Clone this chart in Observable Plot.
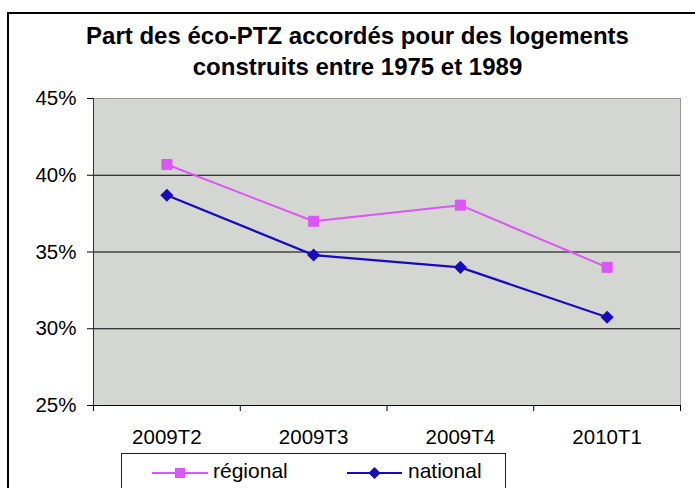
<!DOCTYPE html>
<html>
<head>
<meta charset="utf-8">
<script src="https://cdn.jsdelivr.net/npm/d3@7"></script>
<script src="https://cdn.jsdelivr.net/npm/@observablehq/plot@0.6"></script>
<style>
  html, body { margin: 0; padding: 0; background: #fff; overflow: hidden; }
  #wrap { position: relative; width: 695px; height: 488px; overflow: hidden; font-family: "Liberation Sans", Arial, sans-serif; }
  #border { position: absolute; left: 7px; top: 12px; width: 720px; height: 520px; border: 2px solid #000; box-sizing: border-box; }
  #title { position: absolute; left: 10px; top: 20px; width: 695px; text-align: center; font-weight: bold; font-size: 24px; line-height: 31px; color: #000; }
  #chart { position: absolute; left: 0; top: 0; }
  #legend { position: absolute; left: 121px; top: 453px; width: 385px; height: 60px; border: 1px solid #222; box-sizing: border-box; }
  #legend svg { position: absolute; left: -1px; top: -1px; }
</style>
</head>
<body>
<div id="wrap">
  <div id="border"></div>
  <div id="title">Part des éco-PTZ accordés pour des logements<br>construits entre 1975 et 1989</div>
  <div id="chart"></div>
  <div id="legend"></div>
</div>
<script>
const categories = ["2009T2", "2009T3", "2009T4", "2010T1"];
const regional = [40.7, 37.0, 38.05, 34.0];
const national = [38.7, 34.8, 34.0, 30.75];
const yTicks = [25, 30, 35, 40, 45];
const gridValues = [30, 35, 40];
const seriesNames = ["régional", "national"];
const colors = ["#dc55f6", "#170abf"];

const data = categories.map((c, i) => ({i, c, regional: regional[i], national: national[i]}));

const chart = Plot.plot({
  width: 695,
  height: 488,
  marginLeft: 93,
  marginRight: 15,
  marginTop: 98,
  marginBottom: 83,
  x: {type: "linear", domain: [0, categories.length]},
  y: {domain: [25, 45]},
  style: {fontFamily: "'Liberation Sans', Arial, sans-serif", fontSize: "20.5px", color: "#000", background: "transparent"},
  marks: [
    Plot.frame({fill: "#d4d6d1", stroke: "#9a9a9a"}),
    Plot.ruleY(gridValues, {stroke: "#000", strokeWidth: 1}),
    Plot.ruleY([25], {stroke: "#000", strokeWidth: 1}),
    Plot.ruleX([0], {stroke: "#333", strokeWidth: 1}),
    Plot.axisY({ticks: yTicks, tickSize: 6, tickPadding: 11, tickFormat: d => d + "%", label: null, stroke: "#000"}),
    Plot.axisX({ticks: d3.range(categories.length + 1), tickSize: 6, tickFormat: () => "", label: null, stroke: "#000"}),
    Plot.axisX({ticks: categories.map((c, i) => i + 0.5), tickSize: 0, tickPadding: 24, tickFormat: d => categories[Math.floor(d)], label: null}),
    Plot.line(data, {x: d => d.i + 0.5, y: "regional", stroke: colors[0], strokeWidth: 2}),
    Plot.dot(data, {x: d => d.i + 0.5, y: "regional", symbol: "square", r: 6.2, fill: colors[0], stroke: "none"}),
    Plot.line(data, {x: d => d.i + 0.5, y: "national", stroke: colors[1], strokeWidth: 2.2}),
    Plot.dot(data, {x: d => d.i + 0.5, y: "national", symbol: "diamond2", r: 5.9, fill: colors[1], stroke: "none"})
  ]
});
document.getElementById("chart").appendChild(chart);

// legend
const lg = d3.select("#legend").append("svg").attr("width", 385).attr("height", 40);
const items = [
  {name: seriesNames[0], color: colors[0], x0: 31, x1: 87, sym: d3.symbolSquare, size: 100, tx: 92},
  {name: seriesNames[1], color: colors[1], x0: 226, x1: 281, sym: d3.symbolDiamond2, size: 95, tx: 287}
];
items.forEach(it => {
  lg.append("line").attr("x1", it.x0).attr("x2", it.x1).attr("y1", 20).attr("y2", 20)
    .attr("stroke", it.color).attr("stroke-width", 2);
  lg.append("path").attr("d", d3.symbol(it.sym, it.size)()).attr("transform", `translate(${(it.x0 + it.x1) / 2},20)`)
    .attr("fill", it.color);
  lg.append("text").attr("x", it.tx).attr("y", 25).attr("font-size", "21px")
    .attr("font-family", "'Liberation Sans', Arial, sans-serif").attr("fill", "#000").text(it.name);
});
</script>
</body>
</html>
